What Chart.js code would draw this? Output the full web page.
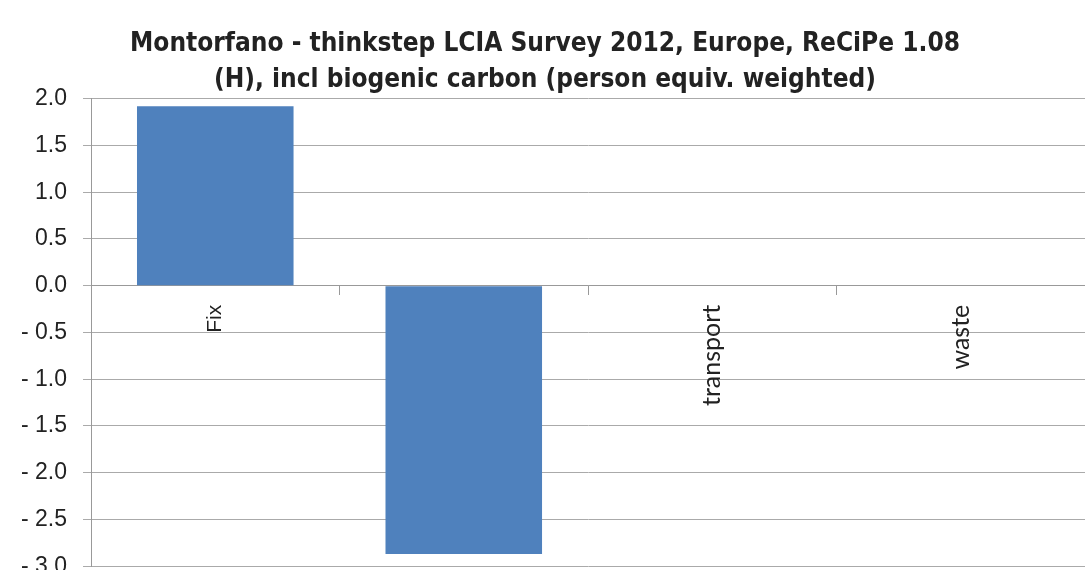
<!DOCTYPE html>
<html>
<head>
<meta charset="utf-8">
<script src="https://cdn.jsdelivr.net/npm/chart.js@4"></script>
<style>
  html, body { margin: 0; padding: 0; background: #fff; overflow: hidden; }
  #wrap { width: 1085px; height: 596px; }
</style>
</head>
<body>
<div id="wrap"><canvas id="lciaChart"></canvas></div>
<script>
const categories = ["Fix", "saving", "transport", "waste"];
const values = [1.92, -2.87, 0, 0];
const titleLines = [
  "Montorfano - thinkstep LCIA Survey 2012, Europe, ReCiPe 1.08",
  "(H), incl biogenic carbon (person equiv. weighted)"
];

function fmtTick(v) {
  if (v < 0) return "- " + Math.abs(v).toFixed(1);
  return v.toFixed(1);
}

const ctx = document.getElementById("lciaChart").getContext("2d");
new Chart(ctx, {
  type: "bar",
  data: {
    labels: categories,
    datasets: [{
      data: values,
      backgroundColor: "#4f81bd",
      borderWidth: 0,
      barPercentage: 0.63,
      categoryPercentage: 1
    }]
  },
  options: {
    responsive: true,
    maintainAspectRatio: false,
    animation: false,
    layout: { padding: { left: 5, right: 0, top: 0, bottom: 0 } },
    plugins: {
      legend: { display: false },
      tooltip: { enabled: false },
      title: {
        display: true,
        text: titleLines,
        color: "#222",
        font: { family: "'DejaVu Sans Condensed', sans-serif", size: 26, weight: "bold", lineHeight: 1.38 },
        padding: { top: 26, bottom: 1 }
      }
    },
    scales: {
      x: {
        position: { y: 0 },
        grid: {
          display: true,
          offset: true,
          drawOnChartArea: false,
          drawTicks: true,
          tickLength: 9,
          color: "#999"
        },
        border: { display: true, color: "#999" },
        ticks: {
          minRotation: 90,
          maxRotation: 90,
          padding: 10,
          color: "#222",
          // first label looks like Arial in the source, rest Calibri-ish
          font: (c) => c.index === 0
            ? { family: "'Liberation Sans', Arial, sans-serif", size: 21 }
            : { family: "Lato, 'Open Sans', sans-serif", size: 25 }
        }
      },
      y: {
        min: -3,
        max: 2,
        ticks: {
          stepSize: 0.5,
          callback: fmtTick,
          color: "#222",
          padding: 16,
          font: { family: "'Liberation Sans', Arial, sans-serif", size: 23 }
        },
        grid: { color: "#aaa", tickLength: 8 },
        border: { color: "#999" }
      }
    }
  }
});
</script>
</body>
</html>
